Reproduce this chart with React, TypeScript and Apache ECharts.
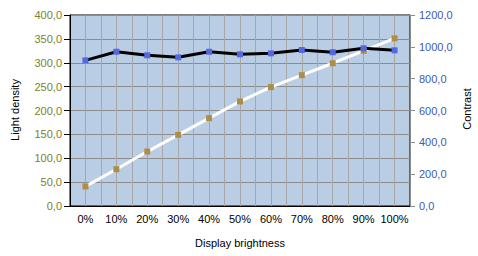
import React, { useEffect, useRef } from "react";
import * as echarts from "echarts";

const categories = ["0%", "10%", "20%", "30%", "40%", "50%", "60%", "70%", "80%", "90%", "100%"];
const lightDensity = [41, 77, 114, 149, 184, 219, 249, 274, 299, 325, 351];
const contrast = [915, 969, 947, 934, 969, 953, 959, 980, 966, 991, 978];
const leftTicks = { min: 0, max: 400, interval: 50 };
const rightTicks = { min: 0, max: 1200, interval: 200 };
const leftTitle = "Light density";
const rightTitle = "Contrast";
const bottomTitle = "Display brightness";

const fmt = (v: number) => v.toFixed(1).replace(".", ",");
const FONT = "Liberation Sans";

export default function App() {
  const ref = useRef<HTMLDivElement>(null);
  useEffect(() => {
    const chart = echarts.init(ref.current!, null, { renderer: "svg" });
    chart.setOption({
      animation: false,
      grid: {
        left: 70, right: 68, top: 15, bottom: 50,
        show: true, backgroundColor: "#B9CDE5", borderColor: "#000", borderWidth: 1,
      },
      xAxis: [
        {
          type: "category", data: categories, boundaryGap: true,
          axisLine: { lineStyle: { color: "#000", width: 1 } },
          axisTick: { show: false },
          axisLabel: { color: "#000", fontSize: 11, fontFamily: FONT, margin: 7, interval: 0, hideOverlap: false },
          splitLine: { show: false },
        },
        {
          type: "value", min: 0, max: categories.length * 2, interval: 1, position: "bottom",
          axisLine: { show: false }, axisTick: { show: false }, axisLabel: { show: false },
          splitLine: { show: true, lineStyle: { color: "#A6A6A6", width: 1 } },
        },
      ],
      yAxis: [
        {
          type: "value", ...leftTicks, position: "left",
          axisLine: { show: true, lineStyle: { color: "#000" } },
          axisTick: { show: true, length: 6, lineStyle: { color: "#000" } },
          axisLabel: { color: "#80802A", fontSize: 11, fontFamily: FONT, margin: 8, formatter: fmt },
          splitLine: { show: true, lineStyle: { color: "#8C8C8C", width: 1 } },
        },
        {
          type: "value", ...rightTicks, position: "right",
          axisLine: { show: true, lineStyle: { color: "#8C8C8C" } },
          axisTick: { show: true, length: 5, lineStyle: { color: "#8C8C8C" } },
          axisLabel: { color: "#3E5BAE", fontSize: 11, fontFamily: FONT, margin: 9, formatter: fmt },
          splitLine: { show: false },
        },
      ],
      series: [
        {
          name: leftTitle, type: "line", data: lightDensity, xAxisIndex: 0, yAxisIndex: 0,
          symbol: "rect", symbolSize: 6,
          lineStyle: { color: "#FFFFFF", width: 3 },
          itemStyle: { color: "#B08D45" },
        },
        {
          name: rightTitle, type: "line", data: contrast, xAxisIndex: 0, yAxisIndex: 1,
          symbol: "rect", symbolSize: 6,
          lineStyle: { color: "#000000", width: 3 },
          itemStyle: { color: "#5469E0" },
        },
      ],
      graphic: [
        {
          type: "text", x: 15, y: 110, rotation: Math.PI / 2,
          style: { text: leftTitle, fill: "#000", font: `11px '${FONT}'`, align: "center", verticalAlign: "middle" },
        },
        {
          type: "text", x: 467, y: 109, rotation: Math.PI / 2,
          style: { text: rightTitle, fill: "#000", font: `11px '${FONT}'`, align: "center", verticalAlign: "middle" },
        },
        {
          type: "text", x: 240, y: 243,
          style: { text: bottomTitle, fill: "#000", font: `11px '${FONT}'`, align: "center", verticalAlign: "middle" },
        },
      ],
    });
    return () => chart.dispose();
  }, []);
  return (
    <div
      ref={ref}
      style={{ position: "absolute", left: 0, top: 0, width: 478, height: 256, background: "#fff" }}
    />
  );
}
